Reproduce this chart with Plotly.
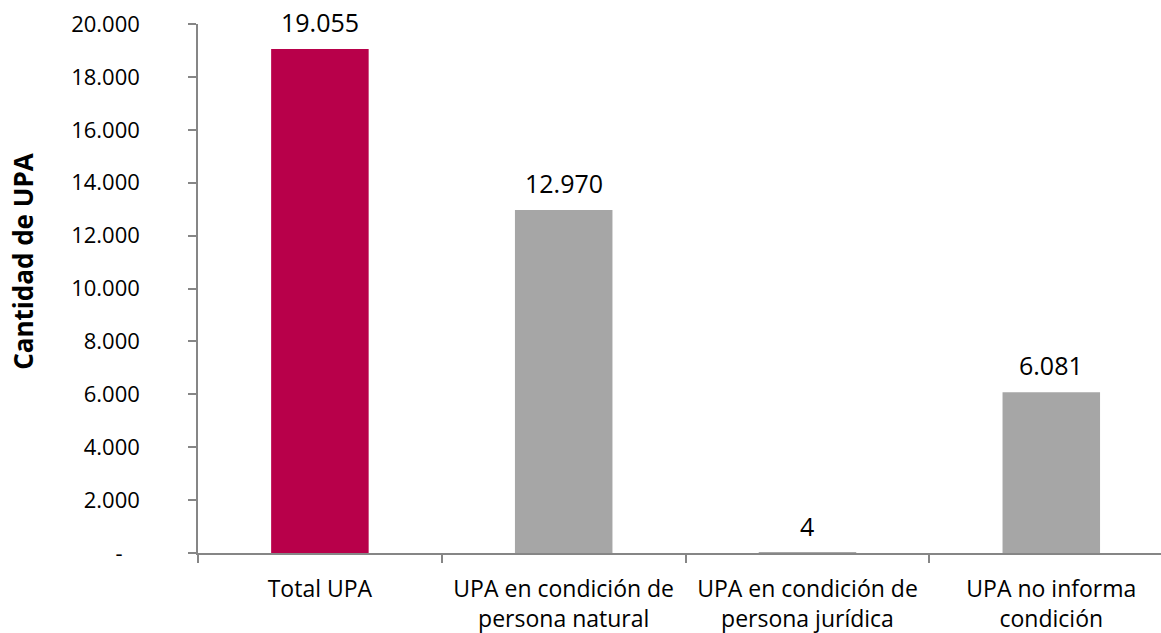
import plotly.graph_objects as go

categories = ["Total UPA",
              "UPA en condición de<br>persona natural",
              "UPA en condición de<br>persona jurídica",
              "UPA no informa<br>condición"]
values = [19055, 12970, 4, 6081]
bar_colors = ["#B8004A", "#A6A6A6", "#A6A6A6", "#A6A6A6"]
y_tickvals = [0, 2000, 4000, 6000, 8000, 10000, 12000, 14000, 16000, 18000, 20000]


def fmt(v):
    return f"{v:,}".replace(",", ".")


y_ticktext = ["-\u00a0\u00a0\u00a0" if v == 0 else fmt(v) for v in y_tickvals]

FONT = "Open Sans, Noto Sans, sans-serif"

fig = go.Figure()
fig.add_trace(go.Bar(
    x=categories, y=values,
    marker=dict(color=bar_colors, line=dict(width=0)),
    width=0.4,
    hoverinfo="skip",
))

for c, v in zip(categories, values):
    fig.add_annotation(x=c, y=v, text=fmt(v), showarrow=False,
                       yanchor="bottom", yshift=8,
                       font=dict(family=FONT, size=25, color="#000000"))

fig.add_annotation(xref="paper", yref="paper", x=-0.182, y=0.55,
                   text="<b>Cantidad de UPA</b>", textangle=-90,
                   showarrow=False, xanchor="center", yanchor="middle",
                   font=dict(family=FONT, size=26, color="#000000"))

fig.update_layout(
    width=1161, height=633,
    margin=dict(l=198, r=0, t=24, b=80, autoexpand=False),
    paper_bgcolor="white", plot_bgcolor="white",
    separators=",.",
    showlegend=False,
    font=dict(family=FONT, size=22, color="#000000"),
    xaxis=dict(
        type="category",
        range=[-0.5, 3.45],
        automargin=False,
        showline=True, linecolor="#868686", linewidth=1.5,
        ticks="outside", tickson="boundaries", ticklen=8,
        tickcolor="#868686", tickwidth=1.5,
        showgrid=False, zeroline=False,
        tickfont=dict(family=FONT, size=23, color="#000000"),
        ticklabelstandoff=15,
    ),
    yaxis=dict(
        range=[0, 20000],
        automargin=False,
        tickvals=y_tickvals, ticktext=y_ticktext,
        showline=True, linecolor="#868686", linewidth=1.5,
        ticks="outside", ticklen=8, tickcolor="#868686", tickwidth=1.5,
        showgrid=False, zeroline=False,
        tickfont=dict(family=FONT, size=22, color="#000000"),
        ticklabelstandoff=44,
    ),
)

fig.write_html("out.html", config={"displayModeBar": False},
               post_script="document.body.style.margin='0';")
